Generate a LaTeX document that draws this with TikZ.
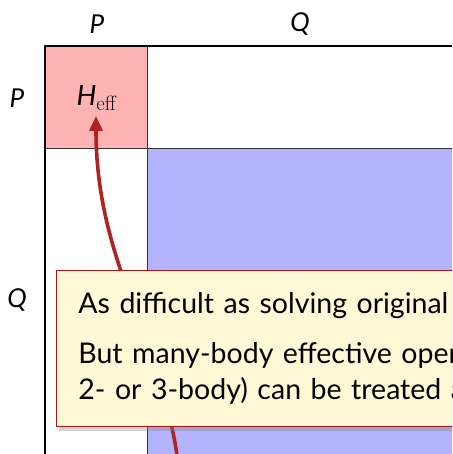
\documentclass[tikz,border=0pt]{standalone}
\usepackage[no-math]{fontspec}
\setmainfont{Lato}
\usetikzlibrary{arrows.meta,shadows}
\definecolor{blockred}{HTML}{FFB3B3}
\definecolor{blockblue}{HTML}{B3B3FF}
\definecolor{arrowred}{HTML}{B22222}
\definecolor{noteyellow}{HTML}{FFF8D6}
\definecolor{noteframe}{HTML}{B01515}

\begin{document}
\begin{tikzpicture}[
  x=1pt,
  y=-1pt,
  line join=round,
  frame/.style={draw=black,line width=1.6pt},
  divide/.style={draw=black!80,line width=1pt},
  axislabel/.style={font=\fontsize{26}{30}\selectfont\itshape},
  flow/.style={draw=arrowred,line width=3.6pt,-{Triangle[length=15pt,width=13pt]}},
  note/.style={draw=noteframe,line width=0.8pt,fill=noteyellow,anchor=north west,
    align=left,inner xsep=22pt,inner ysep=22pt,text width=600pt,
    font=\fontsize{28.5}{36}\selectfont,
    drop shadow={opacity=0.35,shadow xshift=3pt,shadow yshift=-5pt}}
]
  \useasboundingbox (0,0) rectangle (452,454);
  \clip (0,0) rectangle (452,454);

  % Block corners.
  \coordinate (tl) at (45,46);
  \coordinate (mid) at (147,149);
  \coordinate (br) at (560,560);

  % Blocks of the matrix.
  \fill[blockred] (tl) rectangle (mid);
  \fill[blockblue] (mid) rectangle (br);
  \draw[divide] (147,46) -- (147,560);
  \draw[divide] (45,149) -- (560,149);
  \draw[frame] (br) |- (tl) |- (br);

  % Row and column labels.
  \node[axislabel] (colP) at (97,24) {P};
  \node[axislabel] (colQ) at (300,24) {Q};
  \node[axislabel] (rowP) at (17,98) {P};
  \node[axislabel] (rowQ) at (17,300) {Q};

  \node[font=\fontsize{28}{32}\selectfont] (heff) at (97,98) {\itshape H$_{\mathrm{eff}}$};

  % Arrow from below into the P block.
  \coordinate (src) at (179,470);
  \draw[flow] (src) .. controls (164,340) and (96,266) .. (96,116);

  % Note over the Q block.
  \node[note] (remark) at (56,270) {%
    As difficult as solving original problem\\[14pt]
    But many-body effective operators (e.g.\\
    2- or 3-body) can be treated approximately};
\end{tikzpicture}
\end{document}
